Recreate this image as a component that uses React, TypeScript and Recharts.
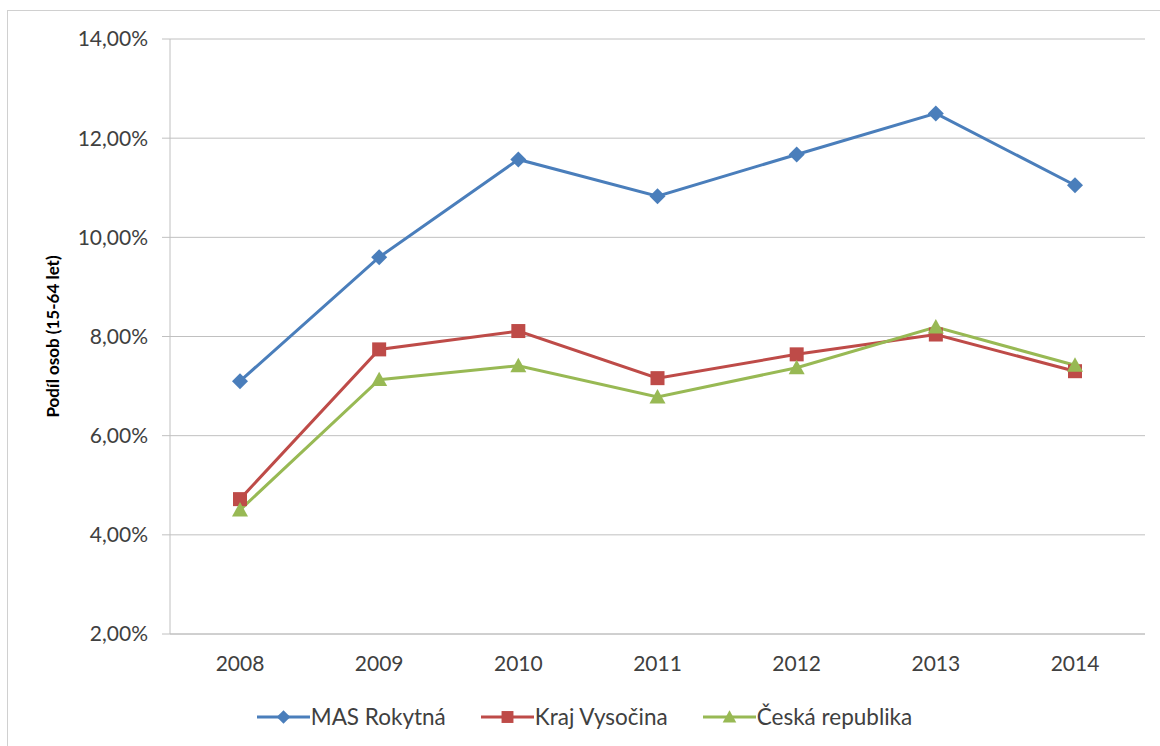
import React from "react";
import {
  LineChart,
  Line,
  XAxis,
  YAxis,
  CartesianGrid,
  Legend,
  Label,
} from "recharts";

const years = ["2008", "2009", "2010", "2011", "2012", "2013", "2014"];
const masRokytna = [7.1, 9.6, 11.57, 10.83, 11.67, 12.5, 11.05];
const krajVysocina = [4.72, 7.74, 8.11, 7.16, 7.64, 8.04, 7.3];
const ceskaRepublika = [4.5, 7.13, 7.41, 6.78, 7.37, 8.19, 7.42];
const yTicks = [2, 4, 6, 8, 10, 12, 14];

const data = years.map((year, i) => ({
  year,
  mas: masRokytna[i],
  kraj: krajVysocina[i],
  cr: ceskaRepublika[i],
}));

const font = "Lato, 'Open Sans', sans-serif";
const fmt = (v: number) => v.toFixed(2).replace(".", ",") + "%";

const series = [
  { key: "mas", name: "MAS Rokytná", color: "#4a7ebb", shape: "diamond" },
  { key: "kraj", name: "Kraj Vysočina", color: "#be4b48", shape: "square" },
  { key: "cr", name: "Česká republika", color: "#98b954", shape: "triangle" },
];

const marker = (shape: string, x: number, y: number, color: string, s = 1) => {
  if (shape === "diamond") {
    const r = 8 * s;
    return (
      <path
        d={`M${x},${y - r}L${x + r},${y}L${x},${y + r}L${x - r},${y}Z`}
        fill={color}
      />
    );
  }
  if (shape === "square") {
    const r = 7 * s;
    return <rect x={x - r} y={y - r} width={2 * r} height={2 * r} fill={color} />;
  }
  const r = 8 * s;
  return (
    <path
      d={`M${x},${y - r}L${x + r},${y + r * 0.8}L${x - r},${y + r * 0.8}Z`}
      fill={color}
    />
  );
};

const makeDot = (shape: string, color: string) => (props: any) => {
  const { cx, cy, index } = props;
  if (cx == null || cy == null) return <g key={index} />;
  return <g key={index}>{marker(shape, cx, cy, color)}</g>;
};

const LegendContent = () => (
  <div
    style={{
      display: "flex",
      justifyContent: "center",
      gap: 35,
      fontSize: 22.5,
      color: "#404040",
      fontFamily: font,
    }}
  >
    {series.map((s) => (
      <div key={s.key} style={{ display: "flex", alignItems: "center" }}>
        <svg width={53} height={20} style={{ marginRight: 1 }}>
          <line x1={0} y1={10} x2={53} y2={10} stroke={s.color} strokeWidth={3} />
          {marker(s.shape, 26.5, 10, s.color, 0.85)}
        </svg>
        <span>{s.name}</span>
      </div>
    ))}
  </div>
);

const App: React.FC = () => {
  return (
    <div
      style={{
        position: "absolute",
        left: 7,
        top: 10,
        width: 1160,
        height: 745,
        border: "1px solid #d0d0d0",
        background: "#fff",
        fontFamily: font,
      }}
    >
      <LineChart
        width={1153}
        height={736}
        data={data}
        margin={{ top: 28, right: 16, left: 82, bottom: 46 }}
      >
        <CartesianGrid vertical={false} stroke="#c0c0c0" strokeWidth={1} />
        <XAxis
          dataKey="year"
          tickLine={false}
          axisLine={{ stroke: "#c0c0c0" }}
          tick={{ fill: "#404040", fontSize: 21, fontFamily: font }}
          tickMargin={16}
          padding={{ left: 70, right: 70 }}
          height={40}
        />
        <YAxis
          domain={[2, 14]}
          ticks={yTicks}
          tickFormatter={fmt}
          width={80}
          axisLine={{ stroke: "#c0c0c0" }}
          tickLine={{ stroke: "#c0c0c0" }}
          tickSize={8}
          tickMargin={14}
          tick={{ fill: "#404040", fontSize: 21, fontFamily: font }}
        >
          <Label
            value="Podíl osob (15-64 let)"
            angle={-90}
            position="insideLeft"
            offset={-37}
            style={{
              textAnchor: "middle",
              fontSize: 17,
              fontWeight: 700,
              fill: "#000",
              fontFamily: font,
            }}
          />
        </YAxis>
        <Legend
          verticalAlign="bottom"
          content={<LegendContent />}
          wrapperStyle={{ top: 692, bottom: "auto", left: 0, width: 1153 }}
        />
        {series.map((s) => (
          <Line
            key={s.key}
            name={s.name}
            dataKey={s.key}
            stroke={s.color}
            strokeWidth={3}
            dot={makeDot(s.shape, s.color)}
            activeDot={false}
            isAnimationActive={false}
          />
        ))}
      </LineChart>
    </div>
  );
};

export default App;
